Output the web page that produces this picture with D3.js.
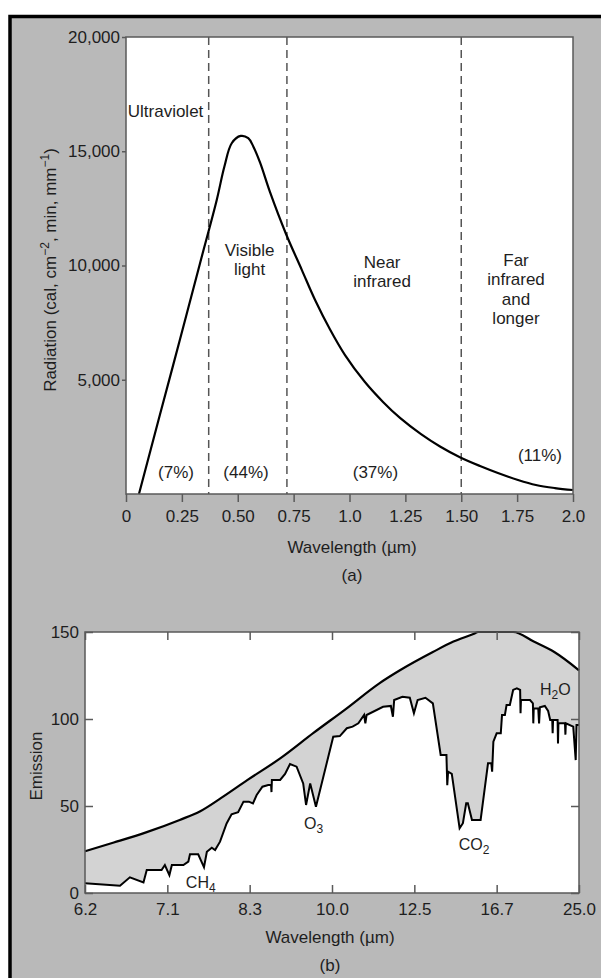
<html>

<head>
    <script src="https://d3js.org/d3.v7.min.js"></script>
    <style>
        body {
            margin: 0;
            background: white;
        }

        text {
            font-family: "Liberation Sans", Arial, Helvetica, sans-serif;
            fill: #1e1e1e;
        }
    </style>
</head>

<body>
    <svg id="fig" width="601" height="978"></svg>
    <script>
        // ---- (a) solar radiation vs wavelength ----
        const solarWave = [0.058, 0.152, 0.242, 0.331, 0.406, 0.44, 0.473, 0.513, 0.547, 0.57, 0.6, 0.644,
            0.716, 0.787, 0.846, 0.913, 0.98, 1.069, 1.15, 1.226, 1.32, 1.405, 1.494, 1.584, 1.664, 1.754, 1.834, 1.919, 2.0];
        const solarRad = [0, 3480, 6780, 10090, 12870, 14320, 15350, 15670, 15570, 15200, 14500, 13220,
            11380, 9800, 8490, 7200, 6080, 4900, 4030, 3330, 2620, 2080, 1610, 1225, 920, 615, 395, 260, 175];
        const bandEdges = [0.37, 0.72, 1.5];
        const bandNames = [["Ultraviolet"], ["Visible", "light"], ["Near", "infrared"], ["Far", "infrared", "and", "longer"]];
        const bandShares = ["(7%)", "(44%)", "(37%)", "(11%)"];
        const waveTicks = [0, 0.25, 0.5, 0.75, 1.0, 1.25, 1.5, 1.75, 2.0];
        const waveTickLabels = ["0", "0.25", "0.50", "0.75", "1.0", "1.25", "1.50", "1.75", "2.0"];
        const radTicks = [5000, 10000, 15000, 20000];

        // ---- (b) earth emission vs wavenumber (labelled as wavelength) ----
        const blackbodyNu = [1600, 1530, 1450, 1370, 1320, 1270, 1205, 1125, 1045, 965, 885, 835, 755, 705, 655, 645, 560, 510, 460, 400];
        const blackbodyE = [24, 29, 35, 42, 47, 54.5, 65, 77.5, 92, 106, 120.5, 128, 138.5, 144.5, 149, 150, 150, 144.5, 138.5, 128];
        const observedNu = [1600, 1515, 1491, 1458, 1450, 1414, 1406, 1395, 1389, 1361, 1349, 1345, 1325, 1319, 1311, 1304,
            1292, 1284, 1272, 1256, 1244, 1228, 1215, 1202, 1192, 1183, 1169, 1155, 1148, 1147, 1146, 1126, 1114, 1102, 1086,
            1070, 1063, 1053, 1039, 997, 981, 964, 950, 936, 922, 919, 916, 876, 857, 852, 849, 829, 811, 801, 792, 773, 755,
            736, 722, 720, 718, 709, 690, 682, 674, 670, 660, 639, 621, 613, 611, 608, 600, 590, 587, 580, 576, 568, 560, 551,
            543, 542, 541, 519, 512, 511, 510, 499, 497, 495, 483, 475, 470, 465, 464, 463, 452, 451, 450, 434, 433, 432, 414,
            408, 406, 400];
        const observedE = [5.6, 4.2, 9, 6.1, 13.2, 13.2, 16.1, 10.3, 16.1, 16.1, 18, 22.2, 22.2, 19, 14.8, 23.7,
            26, 24.7, 29.5, 40, 45.2, 46.4, 52.5, 52.5, 51.5, 56.3, 61.1, 62.1, 62.1, 58, 64.9, 65, 68.4, 74.1, 72.6,
            63, 50.6, 63, 49.6, 89.8, 90.2, 94.7, 95.6, 97.5, 102.3, 97.5, 102.3, 107, 107.5, 101.3, 110.9, 112.8, 112.2, 103.3, 110.9, 112.2, 109,
            79.3, 79.3, 62, 69.7, 68.5, 37.2, 40.1, 51.6, 51.6, 42, 42, 74.5, 74.5, 69.7, 87, 91.8, 91.8, 102.3, 102.3, 108, 108, 116.7, 117.6,
            116.7, 103.3, 110.9, 110.9, 109, 97.5, 106, 106, 97.5, 106.7, 107.5, 104.6, 99.4, 99.4, 91.8, 99.4, 99.4, 86, 97.5, 97.5, 91, 97.5, 95.6,
            76.4, 96.6, 96.6];
        const nuTicks = [1600, 1400, 1200, 1000, 800, 600, 400];
        const nuTickLabels = ["6.2", "7.1", "8.3", "10.0", "12.5", "16.7", "25.0"];
        const emisTicks = [0, 50, 100, 150];
        const gasNames = [["CH", "4", ""], ["O", "3", ""], ["CO", "2", ""], ["H", "2", "O"]];

        const svg = d3.select("#fig");
        const axisColor = "#5a5a5a";
        const fontSize = 17;

        // outer frame
        svg.append("rect")
            .attr("x", 10).attr("y", 16.5)
            .attr("width", 640).attr("height", 1000)
            .attr("fill", "#b9b9b9")
            .attr("stroke", "black")
            .attr("stroke-width", 3.5);

        function styleAxis(g) {
            g.select(".domain").remove();
            g.selectAll("line").attr("stroke", axisColor).attr("stroke-width", 1.5);
            g.selectAll("text").attr("font-size", fontSize).attr("fill", "#1e1e1e")
                .attr("font-family", "'Liberation Sans', Arial, sans-serif");
        }

        // ================= panel (a) =================
        const xA = d3.scaleLinear().domain([0, 2]).range([126, 573]);
        const yA = d3.scaleLinear().domain([0, 20000]).range([494, 37]);
        const a = svg.append("g");

        a.append("rect")
            .attr("x", xA(0)).attr("y", yA(20000))
            .attr("width", xA(2) - xA(0)).attr("height", yA(0) - yA(20000))
            .attr("fill", "white");

        a.selectAll("line.band").data(bandEdges)
            .join("line")
            .attr("class", "band")
            .attr("x1", d => xA(d)).attr("x2", d => xA(d))
            .attr("y1", yA(20000)).attr("y2", yA(0))
            .attr("stroke", "#555")
            .attr("stroke-width", 1.5)
            .attr("stroke-dasharray", "8,5");

        const solarLine = d3.line()
            .x((d, i) => xA(solarWave[i]))
            .y(d => yA(d))
            .curve(d3.curveCatmullRom.alpha(0.5));
        a.append("path").datum(solarRad)
            .attr("d", solarLine)
            .attr("fill", "none")
            .attr("stroke", "black")
            .attr("stroke-width", 2.2);

        a.append("rect")
            .attr("x", xA(0)).attr("y", yA(20000))
            .attr("width", xA(2) - xA(0)).attr("height", yA(0) - yA(20000))
            .attr("fill", "none")
            .attr("stroke", axisColor)
            .attr("stroke-width", 1.5);

        a.append("g")
            .attr("transform", `translate(0,${yA(0)})`)
            .call(d3.axisBottom(xA).tickValues(waveTicks)
                .tickFormat((d, i) => waveTickLabels[i]).tickSize(8).tickPadding(8))
            .call(styleAxis);

        a.append("g")
            .attr("transform", `translate(${xA(0)},0)`)
            .call(d3.axisLeft(yA).tickValues(radTicks).tickFormat(d3.format(",")).tickSize(4).tickPadding(2))
            .call(styleAxis);

        // band names and shares
        const bandNamePos = [[0.177, 16760], [0.553, 10680], [1.146, 10150], [1.745, 10240]];
        bandNames.forEach((lines, i) => {
            const t = a.append("text")
                .attr("x", xA(bandNamePos[i][0]))
                .attr("y", yA(bandNamePos[i][1]))
                .attr("text-anchor", "middle")
                .attr("font-size", fontSize);
            lines.forEach((s, j) => {
                t.append("tspan")
                    .attr("x", xA(bandNamePos[i][0]))
                    .attr("dy", j === 0 ? "0.35em" : 19.3)
                    .text(s);
            });
        });

        const bandSharePos = [[0.224, 960], [0.537, 960], [1.116, 960], [1.852, 1710]];
        a.selectAll("text.share").data(bandShares)
            .join("text")
            .attr("class", "share")
            .attr("x", (d, i) => xA(bandSharePos[i][0]))
            .attr("y", (d, i) => yA(bandSharePos[i][1]))
            .attr("dy", "0.35em")
            .attr("text-anchor", "middle")
            .attr("font-size", fontSize)
            .text(d => d);

        a.append("text")
            .attr("x", 352).attr("y", 547).attr("dy", "0.35em")
            .attr("text-anchor", "middle").attr("font-size", fontSize)
            .text("Wavelength (\u00b5m)");
        a.append("text")
            .attr("x", 352).attr("y", 575).attr("dy", "0.35em")
            .attr("text-anchor", "middle").attr("font-size", fontSize)
            .text("(a)");

        const radLabel = a.append("text")
            .attr("transform", "translate(50,270) rotate(-90)")
            .attr("dy", "0.35em")
            .attr("text-anchor", "middle")
            .attr("font-size", fontSize);
        radLabel.append("tspan").text("Radiation (cal, cm");
        radLabel.append("tspan").attr("font-size", 12).attr("baseline-shift", "super").text("\u22122");
        radLabel.append("tspan").text(", min, mm");
        radLabel.append("tspan").attr("font-size", 12).attr("baseline-shift", "super").text("\u22121");
        radLabel.append("tspan").text(")");

        // ================= panel (b) =================
        const xB = d3.scaleLinear().domain([1600, 400]).range([85, 579]);
        const yB = d3.scaleLinear().domain([0, 150]).range([893, 632]);
        const b = svg.append("g");

        b.append("rect")
            .attr("x", xB(1600)).attr("y", yB(150))
            .attr("width", xB(400) - xB(1600)).attr("height", yB(0) - yB(150))
            .attr("fill", "white");

        const upper = blackbodyNu.map((n, i) => [n, blackbodyE[i]]);
        const lower = observedNu.map((n, i) => [n, observedE[i]]);
        const lineB = d3.line().x(d => xB(d[0])).y(d => yB(d[1]));

        b.append("path")
            .datum(upper.concat(lower.slice().reverse()))
            .attr("d", d => lineB(d) + "Z")
            .attr("fill", "#d3d3d3")
            .attr("stroke", "none");

        b.append("path").datum(upper)
            .attr("d", d3.line().x(d => xB(d[0])).y(d => yB(d[1])).curve(d3.curveMonotoneX))
            .attr("fill", "none").attr("stroke", "black").attr("stroke-width", 2.2);
        b.append("path").datum(lower)
            .attr("d", lineB)
            .attr("fill", "none").attr("stroke", "black").attr("stroke-width", 2)
            .attr("stroke-linejoin", "miter");

        b.append("rect")
            .attr("x", xB(1600)).attr("y", yB(150))
            .attr("width", xB(400) - xB(1600)).attr("height", yB(0) - yB(150))
            .attr("fill", "none")
            .attr("stroke", axisColor)
            .attr("stroke-width", 1.5);

        b.append("g")
            .attr("transform", `translate(0,${yB(0)})`)
            .call(d3.axisBottom(xB).tickValues(nuTicks)
                .tickFormat((d, i) => nuTickLabels[i]).tickSize(-8).tickPadding(10))
            .call(styleAxis);
        b.append("g")
            .attr("transform", `translate(0,${yB(150)})`)
            .call(d3.axisTop(xB).tickValues(nuTicks).tickFormat("").tickSize(-8))
            .call(styleAxis);
        b.append("g")
            .attr("transform", `translate(${xB(1600)},0)`)
            .call(d3.axisLeft(yB).tickValues(emisTicks).tickSize(-8).tickPadding(6))
            .call(styleAxis);
        b.append("g")
            .attr("transform", `translate(${xB(400)},0)`)
            .call(d3.axisRight(yB).tickValues(emisTicks).tickFormat("").tickSize(-8))
            .call(styleAxis);

        // gas labels
        const gasPos = [[1355, 6.3], [1068, 40.2], [692, 28], [495, 117]];
        gasNames.forEach((parts, i) => {
            const t = b.append("text")
                .attr("x", xB(gasPos[i][0]))
                .attr("y", yB(gasPos[i][1]))
                .attr("dy", "0.35em")
                .attr("font-size", 16);
            t.append("tspan").text(parts[0]);
            t.append("tspan").attr("font-size", 12).attr("dy", 4).text(parts[1]);
            if (parts[2]) t.append("tspan").attr("dy", -4).text(parts[2]);
        });

        b.append("text")
            .attr("x", 330).attr("y", 937).attr("dy", "0.35em")
            .attr("text-anchor", "middle").attr("font-size", fontSize)
            .text("Wavelength (\u00b5m)");
        b.append("text")
            .attr("x", 330).attr("y", 965).attr("dy", "0.35em")
            .attr("text-anchor", "middle").attr("font-size", fontSize)
            .text("(b)");
        b.append("text")
            .attr("transform", "translate(36,766) rotate(-90)")
            .attr("dy", "0.35em")
            .attr("text-anchor", "middle").attr("font-size", fontSize)
            .text("Emission");
    </script>
</body>

</html>
